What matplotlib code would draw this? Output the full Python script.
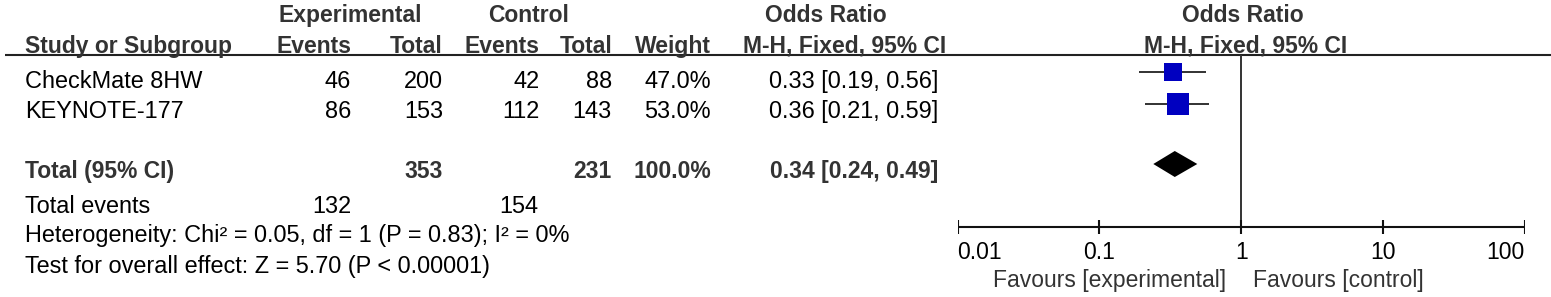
import matplotlib
matplotlib.use("Agg")
import matplotlib.pyplot as plt

# ---------------- data ----------------
studies = ["CheckMate 8HW", "KEYNOTE-177"]
exp_events = [46, 86]
exp_total = [200, 153]
ctrl_events = [42, 112]
ctrl_total = [88, 143]
weights = [47.0, 53.0]
or_est = [0.33, 0.36]
ci_low = [0.19, 0.21]
ci_high = [0.56, 0.59]

pooled_est = 0.34
pooled_low = 0.24
pooled_high = 0.49

heterogeneity = "Heterogeneity: Chi\u00b2 = 0.05, df = 1 (P = 0.83); I\u00b2 = 0%"
overall_test = "Test for overall effect: Z = 5.70 (P < 0.00001)"

axis_ticks = [0.01, 0.1, 1, 10, 100]
axis_tick_labels = ["0.01", "0.1", "1", "10", "100"]
favours_left = "Favours [experimental]"
favours_right = "Favours [control]"

# ---------------- layout ----------------
W, H = 1551, 297
FONT = "Liberation Sans"
FS_B = 16.5
FS_R = 16.9
HDR = "#333333"
BODY = "#000000"

fig = plt.figure(figsize=(W / 100, H / 100), dpi=100)
ax = fig.add_axes([0, 0, 1, 1])
ax.set_xlim(0, W)
ax.set_ylim(H, 0)
ax.axis("off")

# forest axes: x = log OR, y = same pixel rows as text axes
x0_px, x1_px = 957.5, 1525.0
fa = fig.add_axes([x0_px / W, 0, (x1_px - x0_px) / W, 1])
fa.set_xscale("log")
fa.set_xlim(axis_ticks[0], axis_ticks[-1])
fa.set_ylim(H, 0)
fa.axis("off")


def t(x, y, s, ha="left", bold=False, color=BODY, axis=ax, fs=None):
    if fs is None:
        fs = FS_B if bold else FS_R
    axis.text(x, y, s, ha=ha, va="baseline", fontsize=fs, family=FONT,
              fontweight="bold" if bold else "normal", color=color,
              clip_on=False)


# header rows
y_h1, y_h2 = 22, 53
t(350, y_h1, "Experimental", ha="center", bold=True, color=HDR)
t(529, y_h1, "Control", ha="center", bold=True, color=HDR)
t(826, y_h1, "Odds Ratio", ha="center", bold=True, color=HDR)
t(25, y_h2, "Study or Subgroup", bold=True, color=HDR)
col_events_e, col_total_e = 351, 443
col_events_c, col_total_c = 540, 612
col_weight, col_or = 711, 938
t(col_events_e, y_h2, "Events", ha="right", bold=True, color=HDR)
t(col_total_e, y_h2, "Total", ha="right", bold=True, color=HDR)
t(col_events_c, y_h2, "Events", ha="right", bold=True, color=HDR)
t(col_total_c, y_h2, "Total", ha="right", bold=True, color=HDR)
t(col_weight, y_h2, "Weight", ha="right", bold=True, color=HDR)
t(845, y_h2, "M-H, Fixed, 95% CI", ha="center", bold=True, color=HDR)
t(1243, y_h1, "Odds Ratio", ha="center", bold=True, color=HDR)
t(1246, y_h2, "M-H, Fixed, 95% CI", ha="center", bold=True, color=HDR)
ax.plot([5, 1551], [55, 55], color="#222222", lw=1.5, solid_capstyle="butt")

# study rows
row_base = [88, 118]
row_mark = [72, 104]
for i, name in enumerate(studies):
    y = row_base[i]
    t(25, y, name)
    t(col_events_e, y, str(exp_events[i]), ha="right")
    t(col_total_e, y, str(exp_total[i]), ha="right")
    t(col_events_c, y, str(ctrl_events[i]), ha="right")
    t(col_total_c, y, str(ctrl_total[i]), ha="right")
    t(col_weight, y, f"{weights[i]:.1f}%", ha="right")
    t(col_or, y, f"{or_est[i]:.2f} [{ci_low[i]:.2f}, {ci_high[i]:.2f}]", ha="right")
    fa.plot([ci_low[i], ci_high[i]], [row_mark[i], row_mark[i]],
            color="#222222", lw=1.3, solid_capstyle="butt")
    side_px = 0.4 * weights[i]
    fa.plot([or_est[i]], [row_mark[i]], marker="s", linestyle="none",
            markersize=side_px * 0.72, markerfacecolor="#0000c0",
            markeredgecolor="#0000c0", markeredgewidth=0)

# total row
y_tot = 178
t(25, y_tot, "Total (95% CI)", bold=True, color=HDR)
t(col_total_e, y_tot, str(sum(exp_total)), ha="right", bold=True, color=HDR)
t(col_total_c, y_tot, str(sum(ctrl_total)), ha="right", bold=True, color=HDR)
t(col_weight, y_tot, f"{sum(weights):.1f}%", ha="right", bold=True, color=HDR)
t(col_or, y_tot, f"{pooled_est:.2f} [{pooled_low:.2f}, {pooled_high:.2f}]",
  ha="right", bold=True, color=HDR)
yd, hd = 164, 13
fa.fill([pooled_low, pooled_est, pooled_high, pooled_est],
        [yd, yd - hd, yd, yd + hd], color="black", lw=0)

y_ev = 213
t(25, y_ev, "Total events")
t(col_events_e, y_ev, str(sum(exp_events)), ha="right")
t(538, y_ev, str(sum(ctrl_events)), ha="right")
t(25, 242, heterogeneity)
t(25, 273, overall_test)

# forest axis
fa.plot([1, 1], [55, 234], color="#333333", lw=1.4, solid_capstyle="butt")
y_ax = 227
fa.plot([axis_ticks[0], axis_ticks[-1]], [y_ax, y_ax], color="#111111", lw=1.5,
        solid_capstyle="butt")
for i, (tv, tl) in enumerate(zip(axis_ticks, axis_tick_labels)):
    fa.plot([tv, tv], [219.5, 234], color="#111111", lw=1.5, solid_capstyle="butt")
    ha = "left" if i == 0 else ("right" if i == len(axis_ticks) - 1 else "center")
    t(tv, 259, tl, ha=ha, axis=fa, fs=16.5)
t(1226, 287, favours_left, ha="right", color="#333333", fs=16.5)
t(1253, 287, favours_right, ha="left", color="#333333", fs=16.5)

fig.savefig("out.png", dpi=100)
